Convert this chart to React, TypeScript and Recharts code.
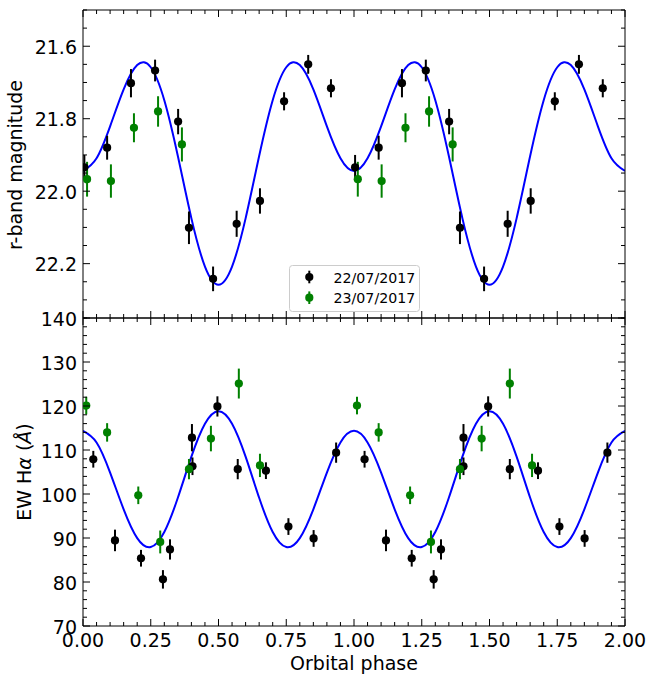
import React from "react";
import { ComposedChart, Line, Scatter, ErrorBar, XAxis, YAxis } from "recharts";

// fitted model curves, every 0.05 in phase
const curvePhase = [
  0, 0.05, 0.1, 0.15, 0.2, 0.25, 0.3, 0.35, 0.4, 0.45, 0.5, 0.55, 0.6, 0.65, 0.7, 0.75, 0.8, 0.85, 0.9, 0.95,
  1, 1.05, 1.1, 1.15, 1.2, 1.25, 1.3, 1.35, 1.4, 1.45, 1.5, 1.55, 1.6, 1.65, 1.7, 1.75, 1.8, 1.85, 1.9, 1.95, 2,
];
const magCurve = [
  21.944, 21.909, 21.821, 21.719, 21.652, 21.658, 21.749, 21.903, 22.075, 22.208, 22.258, 22.208, 22.075, 21.903,
  21.749, 21.658, 21.652, 21.719, 21.821, 21.909, 21.944, 21.909, 21.821, 21.719, 21.652, 21.658, 21.749, 21.903,
  22.075, 22.208, 22.258, 22.208, 22.075, 21.903, 21.749, 21.658, 21.652, 21.719, 21.821, 21.909, 21.944,
];
const ewCurve = [
  114.35, 111.72, 104.88, 96.52, 89.98, 87.94, 91.36, 99.14, 108.48, 115.96, 118.8, 115.96, 108.48, 99.14, 91.36,
  87.94, 89.98, 96.52, 104.88, 111.72, 114.35, 111.72, 104.88, 96.52, 89.98, 87.94, 91.36, 99.14, 108.48, 115.96,
  118.8, 115.96, 108.48, 99.14, 91.36, 87.94, 89.98, 96.52, 104.88, 111.72, 114.35,
];

// r-band, 22/07/2017
const magPhase1 = [
  0.005, 0.089, 0.177, 0.266, 0.351, 0.391, 0.48, 0.567, 0.653, 0.742, 0.831, 0.915,
  1.004, 1.091, 1.177, 1.265, 1.351, 1.391, 1.48, 1.567, 1.652, 1.741, 1.83, 1.918,
];
const magValue1 = [
  21.934, 21.88, 21.702, 21.667, 21.808, 22.101, 22.242, 22.09, 22.027, 21.752, 21.65, 21.716,
  21.934, 21.88, 21.702, 21.667, 21.808, 22.101, 22.242, 22.09, 22.027, 21.752, 21.65, 21.716,
];
const magErr1 = [
  0.034, 0.033, 0.039, 0.03, 0.035, 0.045, 0.034, 0.036, 0.035, 0.025, 0.026, 0.025,
  0.034, 0.033, 0.039, 0.03, 0.035, 0.045, 0.034, 0.036, 0.035, 0.025, 0.026, 0.025,
];
// r-band, 23/07/2017
const magPhase2 = [0.015, 0.103, 0.188, 0.277, 0.365, 1.014, 1.102, 1.19, 1.277, 1.364];
const magValue2 = [21.967, 21.972, 21.825, 21.78, 21.871, 21.967, 21.972, 21.825, 21.78, 21.871];
const magErr2 = [0.048, 0.046, 0.04, 0.042, 0.047, 0.048, 0.046, 0.04, 0.042, 0.047];

// EW Halpha, 22/07/2017
const ewPhase1 = [
  0.038, 0.118, 0.214, 0.295, 0.321, 0.402, 0.404, 0.496, 0.571, 0.675, 0.758, 0.851, 0.934,
  1.039, 1.118, 1.213, 1.294, 1.321, 1.404, 1.404, 1.495, 1.575, 1.679, 1.758, 1.851, 1.935,
];
const ewValue1 = [
  107.9, 89.45, 85.4, 80.6, 87.4, 112.8, 106.3, 119.9, 105.65, 105.3, 92.6, 89.9, 109.4,
  107.9, 89.45, 85.4, 80.6, 87.4, 112.8, 106.3, 119.9, 105.65, 105.3, 92.6, 89.9, 109.4,
];
const ewErr1 = [
  1.9, 2.45, 1.9, 2.1, 2.3, 3.1, 2.0, 2.3, 2.3, 1.9, 1.9, 1.9, 2.3,
  1.9, 2.45, 1.9, 2.1, 2.3, 3.1, 2.0, 2.3, 2.3, 1.9, 1.9, 1.9, 2.3,
];
// EW Halpha, 23/07/2017
const ewPhase2 = [0.012, 0.089, 0.204, 0.285, 0.391, 0.472, 0.575, 0.653, 1.011, 1.091, 1.207, 1.284, 1.391, 1.471, 1.575, 1.657];
const ewValue2 = [120.1, 114.0, 99.7, 89.1, 105.65, 112.6, 125.1, 106.5, 120.1, 114.0, 99.7, 89.1, 105.65, 112.6, 125.1, 106.5];
const ewErr2 = [2.0, 2.1, 2.0, 2.6, 2.3, 2.9, 3.4, 2.65, 2.0, 2.1, 2.0, 2.6, 2.3, 2.9, 3.4, 2.65];

const seriesNames = ["22/07/2017", "23/07/2017"];
const seriesColors = ["#000000", "#008000"];

// ticks
const phaseTicks = [
  0, 0.05, 0.1, 0.15, 0.2, 0.25, 0.3, 0.35, 0.4, 0.45, 0.5, 0.55, 0.6, 0.65, 0.7, 0.75, 0.8, 0.85, 0.9, 0.95,
  1, 1.05, 1.1, 1.15, 1.2, 1.25, 1.3, 1.35, 1.4, 1.45, 1.5, 1.55, 1.6, 1.65, 1.7, 1.75, 1.8, 1.85, 1.9, 1.95, 2,
];
const phaseMajor = [0, 0.25, 0.5, 0.75, 1, 1.25, 1.5, 1.75, 2];
const phaseLabels = ["0.00", "0.25", "0.50", "0.75", "1.00", "1.25", "1.50", "1.75", "2.00"];
const magTicks = [
  21.5, 21.55, 21.6, 21.65, 21.7, 21.75, 21.8, 21.85, 21.9, 21.95, 22.0, 22.05, 22.1, 22.15, 22.2, 22.25, 22.3, 22.35,
];
const magMajor = [21.6, 21.8, 22.0, 22.2];
const magLabels = ["21.6", "21.8", "22.0", "22.2"];
const ewTicks = [
  70, 72, 74, 76, 78, 80, 82, 84, 86, 88, 90, 92, 94, 96, 98, 100, 102, 104, 106, 108, 110, 112, 114, 116, 118, 120,
  122, 124, 126, 128, 130, 132, 134, 136, 138, 140,
];
const ewMajor = [70, 80, 90, 100, 110, 120, 130, 140];
const ewLabels = ["70", "80", "90", "100", "110", "120", "130", "140"];

const FONT = "'DejaVu Sans', sans-serif";
const W = 656;

const pts = (xs: number[], ys: number[], es?: number[]) =>
  xs.map((x, i) => ({ x, y: ys[i], e: es ? es[i] : 0 }));

type Side = "bottom" | "top" | "left" | "right";

function makeTick(side: Side, majors: number[], labels?: string[]) {
  return (props: any) => {
    const { x, y, payload } = props;
    const v = payload.value;
    const idx = majors.findIndex((m) => Math.abs(m - v) < 1e-6);
    const len = idx >= 0 ? 7 : 4;
    let x2 = x;
    let y2 = y;
    if (side === "bottom") y2 = y - len;
    if (side === "top") y2 = y + len;
    if (side === "left") x2 = x + len;
    if (side === "right") x2 = x - len;
    let label = null;
    if (labels && idx >= 0) {
      label =
        side === "bottom" ? (
          <text x={x} y={y + 21} textAnchor="middle" fontFamily={FONT} fontSize={19} fill="#000">
            {labels[idx]}
          </text>
        ) : (
          <text x={x - 6} y={y + 7.5} textAnchor="end" fontFamily={FONT} fontSize={19} fill="#000">
            {labels[idx]}
          </text>
        );
    }
    return (
      <g>
        <line x1={x} y1={y} x2={x2} y2={y2} stroke="#000" strokeWidth={1} />
        {label}
      </g>
    );
  };
}

const dot = (color: string) => (p: any) => <circle cx={p.cx} cy={p.cy} r={4.1} fill={color} />;

function Panel(props: {
  height: number;
  topH: number;
  bottomH: number;
  yDomain: [number, number];
  reversed?: boolean;
  yTicks: number[];
  yMajor: number[];
  yLabels: string[];
  xLabels?: string[];
  curve: { x: number; y: number; e: number }[];
  s1: { x: number; y: number; e: number }[];
  s2: { x: number; y: number; e: number }[];
}) {
  const axisLine = { stroke: "#000", strokeWidth: 1 };
  return (
    <ComposedChart width={W} height={props.height} margin={{ top: 0, right: 0, bottom: 0, left: 23 }}>
      <XAxis
        xAxisId="b"
        dataKey="x"
        type="number"
        domain={[0, 2]}
        allowDataOverflow
        ticks={phaseTicks}
        interval={0}
        orientation="bottom"
        height={props.bottomH}
        tickSize={0}
        tickMargin={0}
        tickLine={false}
        axisLine={axisLine}
        tick={makeTick("bottom", phaseMajor, props.xLabels)}
      />
      <XAxis
        xAxisId="t"
        dataKey="x"
        type="number"
        domain={[0, 2]}
        allowDataOverflow
        ticks={phaseTicks}
        interval={0}
        orientation="top"
        height={props.topH}
        tickSize={0}
        tickMargin={0}
        tickLine={false}
        axisLine={axisLine}
        tick={makeTick("top", phaseMajor)}
      />
      <YAxis
        yAxisId="l"
        type="number"
        domain={props.yDomain}
        reversed={props.reversed}
        allowDataOverflow
        ticks={props.yTicks}
        interval={0}
        orientation="left"
        width={60}
        tickSize={0}
        tickMargin={0}
        tickLine={false}
        axisLine={axisLine}
        tick={makeTick("left", props.yMajor, props.yLabels)}
      />
      <YAxis
        yAxisId="r"
        type="number"
        domain={props.yDomain}
        reversed={props.reversed}
        allowDataOverflow
        ticks={props.yTicks}
        interval={0}
        orientation="right"
        width={31}
        tickSize={0}
        tickMargin={0}
        tickLine={false}
        axisLine={axisLine}
        tick={makeTick("right", props.yMajor)}
      />
      <Line
        xAxisId="b"
        yAxisId="l"
        data={props.curve}
        dataKey="y"
        type="natural"
        stroke="#0000ff"
        strokeWidth={2}
        dot={false}
        activeDot={false}
        isAnimationActive={false}
      />
      <Scatter
        xAxisId="b"
        yAxisId="l"
        name={seriesNames[0]}
        data={props.s1}
        dataKey="y"
        shape={dot(seriesColors[0])}
        isAnimationActive={false}
      >
        <ErrorBar dataKey="e" direction="y" width={0} stroke={seriesColors[0]} strokeWidth={2} isAnimationActive={false} />
      </Scatter>
      <Scatter
        xAxisId="b"
        yAxisId="l"
        name={seriesNames[1]}
        data={props.s2}
        dataKey="y"
        shape={dot(seriesColors[1])}
        isAnimationActive={false}
      >
        <ErrorBar dataKey="e" direction="y" width={0} stroke={seriesColors[1]} strokeWidth={2} isAnimationActive={false} />
      </Scatter>
    </ComposedChart>
  );
}

export default function App() {
  const magLine = pts(curvePhase, magCurve);
  const ewLine = pts(curvePhase, ewCurve);
  return (
    <div style={{ position: "absolute", left: 0, top: 0, width: W, height: 684, background: "#fff" }}>
      <div style={{ position: "absolute", left: 0, top: 0 }}>
        <Panel
          height={320}
          topH={10}
          bottomH={2}
          yDomain={[21.5, 22.35]}
          reversed
          yTicks={magTicks}
          yMajor={magMajor}
          yLabels={magLabels}
          curve={magLine}
          s1={pts(magPhase1, magValue1, magErr1)}
          s2={pts(magPhase2, magValue2, magErr2)}
        />
      </div>
      <div style={{ position: "absolute", left: 0, top: 300 }}>
        <Panel
          height={384}
          topH={18}
          bottomH={58}
          yDomain={[70, 140]}
          yTicks={ewTicks}
          yMajor={ewMajor}
          yLabels={ewLabels}
          xLabels={phaseLabels}
          curve={ewLine}
          s1={pts(ewPhase1, ewValue1, ewErr1)}
          s2={pts(ewPhase2, ewValue2, ewErr2)}
        />
      </div>
      <svg
        width={W}
        height={684}
        style={{ position: "absolute", left: 0, top: 0, pointerEvents: "none" }}
        fontFamily={FONT}
      >
        <text x={22} y={165} fontSize={19} textAnchor="middle" transform="rotate(-90 22 165)">
          r-band magnitude
        </text>
        <text x={31} y={472} fontSize={19} textAnchor="middle" transform="rotate(-90 31 472)">
          EW H<tspan fontStyle="italic">α</tspan> (<tspan fontStyle="italic">Å</tspan>)
        </text>
        <text x={354} y={670} fontSize={19} textAnchor="middle">
          Orbital phase
        </text>
        <g>
          <rect x={289.5} y={265.5} width={130} height={46} rx={3} fill="#fff" fillOpacity={0.8} stroke="#cccccc" />
          {seriesNames.map((name, i) => {
            const cy = 277 + i * 20.7;
            return (
              <g key={name}>
                <line x1={309.3} y1={cy - 6.3} x2={309.3} y2={cy + 6.3} stroke={seriesColors[i]} strokeWidth={2} />
                <circle cx={309.3} cy={cy} r={4.1} fill={seriesColors[i]} />
                <text x={333.5} y={cy + 5.5} fontSize={14.2} fill="#000">
                  {name}
                </text>
              </g>
            );
          })}
        </g>
      </svg>
    </div>
  );
}
